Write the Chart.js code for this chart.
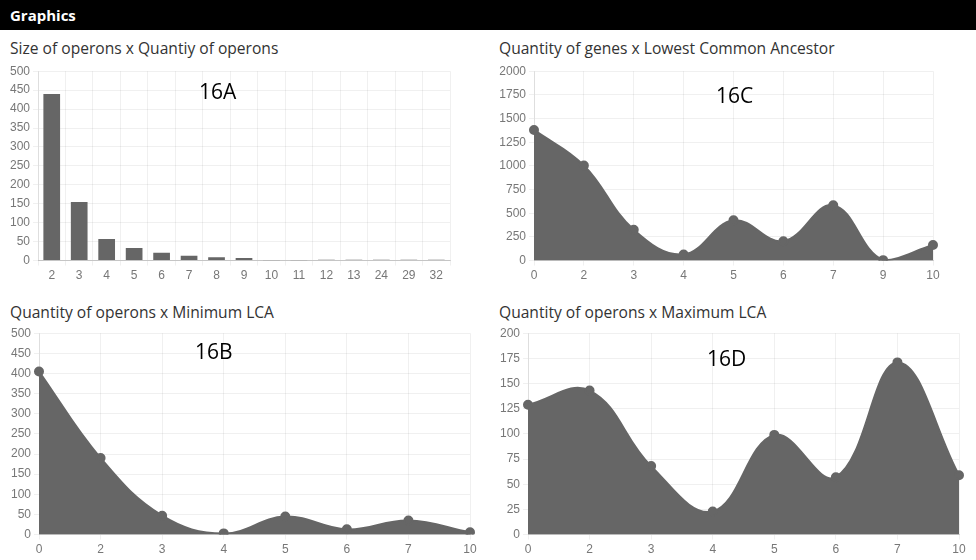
<!DOCTYPE html>
<html>
<head>
<meta charset="utf-8">
<script src="https://cdn.jsdelivr.net/npm/chart.js@4/dist/chart.umd.min.js"></script>
<style>
  html, body { margin: 0; padding: 0; background: #fff; width: 976px; height: 560px; overflow: hidden; }
  body { position: relative; font-family: "Open Sans", "Noto Sans", sans-serif; }
  .header { position: absolute; left: 0; top: 0; width: 976px; height: 30px; background: #000; }
  .header span { position: absolute; left: 10px; top: 5px; color: #fff; font-weight: bold; font-size: 15px; }
  .title { position: absolute; font-size: 15.6px; color: #333; white-space: nowrap; }
  .tag { position: absolute; font-size: 21px; color: #000; white-space: nowrap; }
  .box { position: absolute; }
  canvas { display: block; }
</style>
</head>
<body>
<div class="header"><span>Graphics</span></div>

<div class="title" style="left:10px;top:37px;">Size of operons x Quantiy of operons</div>
<div class="title" style="left:499px;top:37px;">Quantity of genes x Lowest Common Ancestor</div>
<div class="title" style="left:10px;top:301px;">Quantity of operons x Minimum LCA</div>
<div class="title" style="left:499px;top:301px;">Quantity of operons x Maximum LCA</div>

<div class="box" style="left:0px;top:61px;"><canvas id="chartA" width="452" height="225"></canvas></div>
<div class="box" style="left:490px;top:61px;"><canvas id="chartC" width="453" height="225"></canvas></div>
<div class="box" style="left:0px;top:323px;"><canvas id="chartB" width="480" height="237"></canvas></div>
<div class="box" style="left:490px;top:323px;"><canvas id="chartD" width="479" height="237"></canvas></div>

<div class="tag" style="left:199px;top:77px;">16A</div>
<div class="tag" style="left:716px;top:81px;">16C</div>
<div class="tag" style="left:195px;top:337px;">16B</div>
<div class="tag" style="left:707px;top:344px;">16D</div>

<script>
// Operon size distribution (16A)
const operonSizes = ['2', '3', '4', '5', '6', '7', '8', '9', '10', '11', '12', '13', '24', '29', '32'];
const operonCounts = [440, 155, 57, 33, 21, 13, 9, 7, 1, 1, 2, 2, 2, 2, 2];

// Genes per lowest common ancestor (16C)
const lcaLevelsGenes = ['0', '2', '3', '4', '5', '6', '7', '9', '10'];
const genesPerLca = [1380, 1005, 325, 65, 425, 205, 585, 5, 165];

// Operons per minimum / maximum LCA (16B, 16D)
const lcaLevelsOperons = ['0', '2', '3', '4', '5', '6', '7', '10'];
const operonsMinLca = [405, 190, 47, 3, 45, 13, 35, 6];
const operonsMaxLca = [129, 143, 68, 23, 99, 57, 171, 59];

const GRAY = '#666666';
const tickFont = { family: '"Liberation Sans", Arial, sans-serif', size: 12 };

function axes(yMax, yStep, offsetX, yWidth) {
  return {
    x: {
      offset: offsetX,
      grid: { color: 'rgba(0,0,0,0.06)', tickLength: 5, offset: offsetX },
      border: { color: 'rgba(0,0,0,0.18)' },
      ticks: { color: '#777', font: tickFont, maxRotation: 0, autoSkip: false, padding: 3 }
    },
    y: {
      min: 0, max: yMax,
      afterFit: (scale) => { scale.width = yWidth; },
      grid: { color: 'rgba(0,0,0,0.06)', tickLength: 5 },
      border: { color: 'rgba(0,0,0,0.08)' },
      ticks: { color: '#777', font: tickFont, stepSize: yStep, padding: 3,
               callback: (v) => String(v) }
    }
  };
}

const common = {
  responsive: false,
  animation: false,
  plugins: { legend: { display: false }, tooltip: { enabled: false } }
};

new Chart(document.getElementById('chartA'), {
  type: 'bar',
  data: {
    labels: operonSizes,
    datasets: [{ data: operonCounts, backgroundColor: GRAY, barPercentage: 0.76, categoryPercentage: 0.8 }]
  },
  options: Object.assign({}, common, { scales: axes(500, 50, true, 38), layout: { padding: { right: 2 } } })
});

function areaChart(id, labels, values, yMax, yStep, yWidth) {
  new Chart(document.getElementById(id), {
    type: 'line',
    data: {
      labels: labels,
      datasets: [{
        data: values,
        fill: 'origin',
        backgroundColor: GRAY,
        borderColor: GRAY,
        borderWidth: 2,
        tension: 0.4,
        pointRadius: 4,
        pointBackgroundColor: GRAY,
        pointBorderColor: GRAY
      }]
    },
    options: Object.assign({}, common, { scales: axes(yMax, yStep, false, yWidth), layout: { padding: { right: 10 } } })
  });
}

areaChart('chartC', lcaLevelsGenes, genesPerLca, 2000, 250, 44);
areaChart('chartB', lcaLevelsOperons, operonsMinLca, 500, 50, 39);
areaChart('chartD', lcaLevelsOperons, operonsMaxLca, 200, 25, 38);
</script>
</body>
</html>
